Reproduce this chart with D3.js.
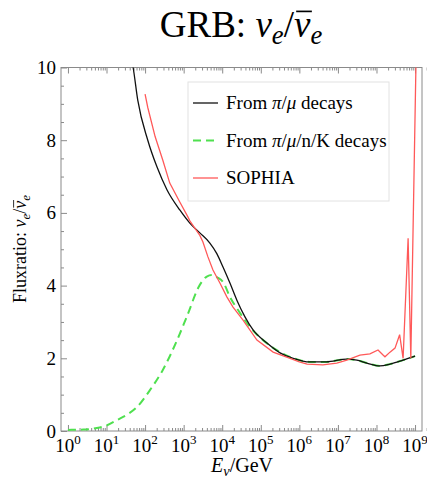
<!DOCTYPE html>
<html>
<head>
<meta charset="utf-8">
<script src="https://cdn.jsdelivr.net/npm/d3@7"></script>
<style>
  html, body { margin: 0; padding: 0; background: #fff; }
  svg { display: block; font-family: "Liberation Serif", "DejaVu Serif", serif; }
</style>
</head>
<body>
<svg id="chart" width="427" height="484"></svg>
<script>
// GRB flux ratio nu_e / anti-nu_e vs neutrino energy

const width = 427;
const height = 484;
const svg = d3.select("#chart");

// data (energy given as log10(E/GeV))
const piMuLogE = [1.55, 1.69, 1.81, 2.07, 2.31, 2.57, 2.9, 3.16, 3.42, 3.68, 3.86, 4.02, 4.2, 4.38, 4.59, 4.8, 5.16, 5.5, 5.84, 6.27, 6.7, 7.23, 7.49, 7.75, 8.09, 8.35, 8.69, 9.0];
const piMuRatio = [10.6, 10.0, 9.1, 8.0, 7.26, 6.63, 6.08, 5.72, 5.45, 5.17, 4.88, 4.51, 4.07, 3.6, 3.14, 2.78, 2.42, 2.15, 2.0, 1.9, 1.9, 1.98, 1.95, 1.87, 1.79, 1.84, 1.95, 2.06];

const allLogE = [0, 0.4, 0.75, 1.0, 1.27, 1.55, 1.79, 2.13, 2.46, 2.83, 3.08, 3.42, 3.6, 3.73, 3.88, 4.02, 4.2, 4.46, 4.72, 5.06, 5.5, 5.94, 6.27, 6.7, 7.23, 7.49, 7.75, 8.09, 8.35, 8.69, 9.0];
const allRatio = [0.03, 0.04, 0.08, 0.15, 0.3, 0.46, 0.66, 1.13, 1.68, 2.5, 3.14, 4.02, 4.25, 4.29, 4.22, 4.1, 3.69, 3.25, 2.86, 2.5, 2.17, 1.97, 1.9, 1.9, 1.98, 1.95, 1.87, 1.79, 1.84, 1.95, 2.06];

const sophiaLogE = [2.0, 2.07, 2.26, 2.46, 2.64, 2.9, 3.11, 3.16, 3.42, 3.5, 3.63, 3.76, 3.94, 4.12, 4.28, 4.54, 4.9, 5.32, 5.76, 6.0, 6.2, 6.61, 6.97, 7.23, 7.57, 7.83, 8.04, 8.17, 8.22, 8.35, 8.48, 8.6, 8.69, 8.82, 8.89, 9.03];
const sophiaRatio = [9.27, 8.9, 8.1, 7.45, 6.82, 6.3, 5.89, 5.78, 5.38, 5.2, 4.79, 4.43, 4.07, 3.69, 3.41, 3.05, 2.5, 2.17, 2.0, 1.9, 1.84, 1.82, 1.87, 1.95, 2.09, 2.12, 2.23, 2.09, 2.04, 2.17, 2.28, 2.65, 2.0, 5.3, 2.0, 10.5];

const xDecades = [0, 1, 2, 3, 4, 5, 6, 7, 8, 9];
const yMajor = [0, 2, 4, 6, 8, 10];

const series = [
    {logE: allLogE, ratio: allRatio, color: "#4fe04f", width: 2, dash: "8,5"},
    {logE: piMuLogE, ratio: piMuRatio, color: "#111", width: 1.3, dash: null},
    {logE: sophiaLogE, ratio: sophiaRatio, color: "#ff5959", width: 1.3, dash: null}
];

// plot area
const pLeft = 61, pRight = 422, pTop = 67.5, pBottom = 431;

const x = d3.scaleLog()
    .domain([Math.pow(10, -0.18), Math.pow(10, 9.18)])
    .range([pLeft, pRight]);
const y = d3.scaleLinear().domain([0, 10]).range([pBottom, pTop]);

const majorX = xDecades.map(d => Math.pow(10, d));
const minorX = [];
xDecades.forEach(d => { for (let k = 2; k <= 9; k++) minorX.push(k * Math.pow(10, d)); });
const minorY = d3.range(0, 10.01, 0.5).filter(v => v % 2 !== 0);

// axes (ticks inside the frame)
function tickGroup(axis, tf) {
    const g = svg.append("g").attr("transform", tf).call(axis);
    g.select(".domain").remove();
    g.selectAll("line").attr("stroke", "#8a8a8a");
    g.selectAll("text").remove();
    return g;
}
tickGroup(d3.axisBottom(x).tickValues(majorX).tickSize(-6).tickSizeOuter(0), `translate(0,${pBottom})`);
tickGroup(d3.axisBottom(x).tickValues(minorX).tickSize(-3).tickSizeOuter(0), `translate(0,${pBottom})`);
tickGroup(d3.axisTop(x).tickValues(majorX).tickSize(-6).tickSizeOuter(0), `translate(0,${pTop})`);
tickGroup(d3.axisTop(x).tickValues(minorX).tickSize(-3).tickSizeOuter(0), `translate(0,${pTop})`);
tickGroup(d3.axisLeft(y).tickValues(yMajor).tickSize(-6).tickSizeOuter(0), `translate(${pLeft},0)`);
tickGroup(d3.axisLeft(y).tickValues(minorY).tickSize(-3).tickSizeOuter(0), `translate(${pLeft},0)`);

// frame
svg.append("rect")
    .attr("x", pLeft).attr("y", pTop)
    .attr("width", pRight - pLeft).attr("height", pBottom - pTop)
    .attr("fill", "none").attr("stroke", "#8a8a8a").attr("stroke-width", 1);

// tick labels
svg.append("g").selectAll("text")
    .data(yMajor).enter().append("text")
    .attr("x", 56).attr("y", d => y(d) + 6.5)
    .attr("text-anchor", "end")
    .attr("font-size", 19)
    .text(d => d);

const xl = svg.append("g").selectAll("text")
    .data(xDecades).enter().append("text")
    .attr("x", d => x(Math.pow(10, d)))
    .attr("y", 452)
    .attr("text-anchor", "middle")
    .attr("font-size", 19);
xl.append("tspan").text("10");
xl.append("tspan").attr("dy", -8).attr("font-size", 13).text(d => d);

// curves
svg.append("clipPath").attr("id", "plotclip")
    .append("rect").attr("x", pLeft).attr("y", pTop)
    .attr("width", pRight - pLeft).attr("height", pBottom - pTop);

const line = d3.line()
    .x(d => x(Math.pow(10, d[0])))
    .y(d => y(d[1]));

const curves = svg.append("g").attr("clip-path", "url(#plotclip)");
series.forEach((s, i) => {
    const pts = s.logE.map((v, j) => [v, s.ratio[j]]);
    curves.append("path")
        .attr("d", line.curve(i === 2 ? d3.curveLinear : d3.curveMonotoneX)(pts))
        .attr("fill", "none")
        .attr("stroke", s.color)
        .attr("stroke-width", s.width)
        .attr("stroke-dasharray", s.dash);
});

// legend
const legend = svg.append("g");
legend.append("rect")
    .attr("x", 188).attr("y", 82).attr("width", 201).attr("height", 119)
    .attr("fill", "#fff").attr("fill-opacity", 0.9)
    .attr("stroke", "#e2e2e2");
const legendRows = [
    {s: series[1], parts: [["From ", false], ["π", true], ["/", false], ["μ", true], [" decays", false]]},
    {s: series[0], parts: [["From ", false], ["π", true], ["/", false], ["μ", true], ["/n/K decays", false]]},
    {s: series[2], parts: [["SOPHIA", false]]}
];
legendRows.forEach((r, i) => {
    const cy = 103 + i * 37.5;
    legend.append("line")
        .attr("x1", 193).attr("x2", 218).attr("y1", cy).attr("y2", cy)
        .attr("stroke", r.s.color).attr("stroke-width", r.s.width)
        .attr("stroke-dasharray", r.s.dash);
    const t = legend.append("text").attr("x", 226).attr("y", cy + 6).attr("font-size", 19);
    r.parts.forEach(p => t.append("tspan").attr("font-style", p[1] ? "italic" : null).text(p[0]));
});

// text with sub-scripts, overline drawn over one glyph
function richText(g, parts, size, sub) {
    const t = g.append("text").attr("text-anchor", "middle").attr("font-size", size);
    let shift = 0;
    parts.forEach(p => {
        const ts = t.append("tspan").text(p.text);
        if (p.italic) ts.attr("font-style", "italic");
        const want = p.sub ? sub : 0;
        if (want !== shift) { ts.attr("dy", want - shift); shift = want; }
        if (p.sub) ts.attr("font-size", size * 0.72);
    });
    // overlines
    let idx = 0;
    parts.forEach(p => {
        if (p.bar) {
            const ext = t.node().getExtentOfChar(idx);
            g.append("line")
                .attr("x1", ext.x + size * 0.06).attr("x2", ext.x + ext.width + size * 0.04)
                .attr("y1", ext.y + size * 0.2).attr("y2", ext.y + size * 0.2)
                .attr("stroke", "#000").attr("stroke-width", size * 0.045);
        }
        idx += p.text.length;
    });
    return t;
}

// title
const title = svg.append("g").attr("transform", "translate(241,37)");
richText(title, [
    {text: "GRB: "},
    {text: "ν", italic: true},
    {text: "e", italic: true, sub: true},
    {text: "/"},
    {text: "ν", italic: true, bar: true},
    {text: "e", italic: true, sub: true}
], 37, 7);

// y label
const ylab = svg.append("g").attr("transform", "translate(26,249) rotate(-90)");
richText(ylab, [
    {text: "Fluxratio: "},
    {text: "ν", italic: true},
    {text: "e", italic: true, sub: true},
    {text: "/"},
    {text: "ν", italic: true, bar: true},
    {text: "e", italic: true, sub: true}
], 18, 4);

// x label
const xlab = svg.append("g").attr("transform", "translate(242,472)");
richText(xlab, [
    {text: "E", italic: true},
    {text: "ν", italic: true, sub: true},
    {text: "/GeV"}
], 20, 4);
</script>
</body>
</html>
